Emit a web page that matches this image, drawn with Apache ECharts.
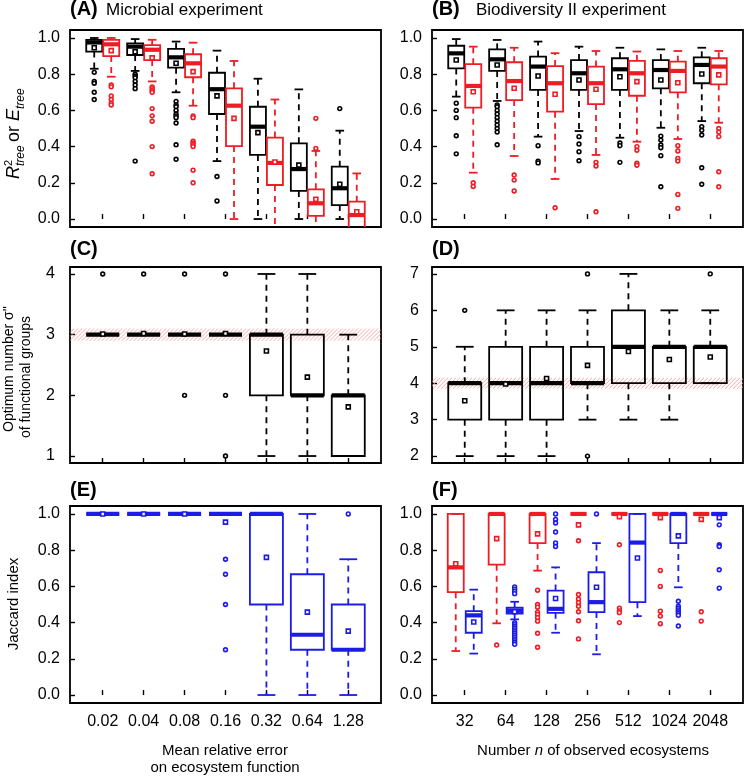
<!DOCTYPE html>
<html><head><meta charset="utf-8">
<script src="https://cdn.jsdelivr.net/npm/echarts@6/dist/echarts.min.js"></script>
<style>html,body{margin:0;padding:0;background:#fff}#c{width:745px;height:777px}</style>
</head><body><div id="c"></div>
<script>
// ---------- categories & ticks ----------
const catsLeft = ['0.02','0.04','0.08','0.16','0.32','0.64','1.28'];
const catsRight = ['32','64','128','256','512','1024','2048'];
const ticks01 = [0, 0.2, 0.4, 0.6, 0.8, 1.0];
const ticksC = [1, 2, 3, 4];
const ticksD = [2, 3, 4, 5, 6, 7];

// box stats: [lowWhisker, Q1, median, Q3, highWhisker]
// ---------- Panel A ----------
const A_black_box = [[0.83,0.925,0.975,0.99,1.0],[0.818,0.906,0.952,0.97,0.994],[0.70,0.836,0.893,0.94,0.98],[0.32,0.58,0.717,0.808,0.93],[0.0,0.354,0.51,0.62,0.775],[0.0,0.155,0.276,0.418,0.716],[0.0,0.077,0.17,0.289,0.488]];
const A_black_mean = [0.946,0.924,0.86,0.68,0.477,0.298,0.192];
const A_black_out = [[0.81,0.76,0.75,0.70,0.66],[0.80,0.79,0.78,0.76,0.74,0.72,0.32],[0.65,0.63,0.62,0.60,0.58,0.57,0.56,0.53,0.41,0.33],[0.235,0.10],[],[],[0.61]];
const A_red_box = [[0.786,0.90,0.965,0.99,1.0],[0.76,0.878,0.935,0.96,0.99],[0.626,0.783,0.86,0.91,0.974],[0.0,0.403,0.626,0.722,0.873],[-0.08,0.188,0.31,0.45,0.66],[-0.08,0.017,0.087,0.164,0.376],[-0.1,-0.06,0.022,0.096,0.252]];
const A_red_mean = [0.93,0.89,0.814,0.556,0.315,0.109,0.04];
const A_red_out = [[0.74,0.73,0.68,0.66,0.64,0.63],[0.73,0.72,0.71,0.70,0.61,0.57,0.54,0.40,0.25],[0.57,0.56,0.43,0.42,0.41,0.40,0.27,0.20],[],[],[0.556,0.39],[]];

// ---------- Panel B ----------
const B_black_box = [[0.676,0.832,0.915,0.957,0.994],[0.652,0.818,0.882,0.937,0.989],[0.455,0.713,0.842,0.897,0.98],[0.486,0.713,0.805,0.878,0.952],[0.449,0.713,0.827,0.888,0.946],[0.504,0.722,0.823,0.878,0.937],[0.541,0.75,0.851,0.893,0.946]];
const B_black_mean = [0.878,0.851,0.79,0.768,0.786,0.768,0.801];
const B_black_out = [[0.64,0.60,0.56,0.46,0.36],[0.63,0.62,0.60,0.58,0.56,0.54,0.52,0.50,0.48,0.41],[0.405,0.32,0.31],[0.455,0.414,0.372,0.322],[0.42,0.405,0.313],[0.458,0.436,0.409,0.394,0.35,0.178],[0.51,0.49,0.464,0.283,0.192]];
const B_red_box = [[0.256,0.615,0.735,0.855,0.952],[0.348,0.657,0.762,0.866,0.946],[0.221,0.593,0.75,0.845,0.916],[0.354,0.635,0.75,0.842,0.928],[0.427,0.681,0.805,0.873,0.925],[0.442,0.70,0.818,0.869,0.928],[0.532,0.744,0.842,0.888,0.928]];
const B_red_mean = [0.703,0.722,0.689,0.717,0.759,0.753,0.796];
const B_red_out = [[0.20,0.18],[0.243,0.215,0.155],[0.062],[0.313,0.293,0.04],[0.40,0.38,0.308,0.297],[0.405,0.376,0.335,0.32,0.136,0.059],[0.50,0.48,0.455,0.261,0.178]];

// ---------- Panel C ----------
const C_box = [[3,3,3,3,3],[3,3,3,3,3],[3,3,3,3,3],[3,3,3,3,3],[1,2,3,3,4],[1,2,2,3,4],[1,1,2,2,3]];
const C_mean = [3.01,3.02,3.01,3.02,2.73,2.30,1.81];
const C_out = [[4],[4],[4,2],[4,2,1],[],[],[]];
const C_band = [2.9, 3.1];

// ---------- Panel D ----------
const D_box = [[2,3,4,4,5],[2,3,4,5,6],[2,3,4,5,6],[3,4,4,5,6],[3,4,5,6,7],[3,4,5,5,6],[4,4,5,5,6]];
const D_mean = [3.52,3.98,4.13,4.49,4.87,4.65,4.72];
const D_out = [[6],[],[],[7,2],[],[],[7]];
const D_band = [3.85, 4.15];

// ---------- Panel E ----------
const E_box = [[1,1,1,1,1],[1,1,1,1,1],[1,1,1,1,1],[1,1,1,1,1],[0,0.5,1,1,1],[0,0.25,0.333,0.667,1],[0,0.25,0.25,0.5,0.75]];
const E_mean = [1,1,1,0.955,0.76,0.458,0.353];
const E_out = [[],[],[],[0.75,0.667,0.5,0.25],[],[],[1.0]];

// ---------- Panel F ----------
const F_red_box = [[0.243,0.568,0.705,1.0,1.0],[0.396,0.72,1.0,1.0,1.0],[0.687,0.839,1.0,1.0,1.0],[1,1,1,1,1],[1,1,1,1,1],[1,1,1,1,1],[1,1,1,1,1]];
const F_red_mean = [0.725,0.864,0.89,0.94,0.985,0.98,0.97];
const F_red_out = [[],[0.276],[0.579,0.50,0.485,0.458,0.445,0.427,0.408,0.341,0.264],[0.852,0.555,0.53,0.51,0.49,0.46,0.41,0.31],[0.83,0.48,0.465,0.455,0.40],[0.688,0.60,0.463,0.436,0.394],[0.46,0.408]];
const F_blue_box = [[0.229,0.344,0.44,0.463,0.582],[0.418,0.45,0.465,0.482,0.515],[0.344,0.454,0.476,0.577,0.705],[0.225,0.458,0.513,0.678,0.839],[0.436,0.513,0.842,1.0,1.0],[0.595,0.839,1.0,1.0,1.0],[1,1,1,1,1]];
const F_blue_mean = [0.403,0.46,0.533,0.595,0.757,0.879,0.98];
const F_blue_out = [[],[0.597,0.585,0.573,0.56,0.40,0.39,0.38,0.37,0.36,0.35,0.34,0.33,0.32,0.31,0.30,0.29,0.28],[1.0,0.97,0.95,0.90,0.84,0.82],[1.0],[],[0.518,0.49,0.48,0.47,0.46,0.45,0.44,0.381],[0.94,0.83,0.82,0.692,0.59]];

// ---------- styling ----------
const BLACK = '#000000', RED = '#ee1c24', BLUE = '#1c1ce8', HATCH_COLOR = '#f0a0a0';
const FONT = '"Liberation Sans", Arial, sans-serif';

const grids = [
  {left:70, top:30, width:311, height:197},
  {left:432, top:30, width:311, height:197},
  {left:70, top:267, width:311, height:196},
  {left:432, top:267, width:311, height:196},
  {left:70, top:506, width:311, height:197},
  {left:432, top:506, width:311, height:197}
].map(g => Object.assign({show:true, borderColor:'#000', borderWidth:1.8, backgroundColor:'transparent'}, g));

const catIdx = [1,2,3,4,5,6,7];
function xAxis(gi, cats, showLabels) {
  return {
    gridIndex: gi, type:'value', min:0.2, max:7.8,
    axisLine:{show:false}, splitLine:{show:false},
    axisTick:{show:true, inside:true, length:5, customValues:catIdx, lineStyle:{color:'#000', width:1.4}},
    axisLabel:{show:showLabels, customValues:catIdx, margin:11, color:'#000', fontSize:16, fontFamily:FONT,
      formatter: v => cats[Math.round(v)-1] || ''}
  };
}
function yAxis(gi, min, max, ticks, digits, margin) {
  return {
    gridIndex: gi, type:'value', min:min, max:max,
    axisLine:{show:false}, splitLine:{show:false},
    axisTick:{show:true, inside:true, length:5, customValues:ticks, lineStyle:{color:'#000', width:1.4}},
    axisLabel:{customValues:ticks, margin:margin, color:'#000', fontSize:16, fontFamily:FONT,
      formatter: v => v.toFixed(digits)}
  };
}

function boxSeries(gi, box, mean, out, color, offset, width) {
  return {
    type:'custom', xAxisIndex:gi, yAxisIndex:gi, clip:true, z:5,
    data: box.map((b,i) => [i+1, b[0], b[4], mean[i]]),
    encode:{x:0, y:[1,2]},
    renderItem: function(params, api) {
      const i = params.dataIndex;
      const b = box[i];
      const xv = api.value(0);
      const cx = api.coord([xv, b[2]])[0] + offset;
      const y = b.map(v => api.coord([xv, v])[1]);
      const hw = width/2, cw = width*0.27;
      const ch = [];
      const ls = {stroke:color, lineWidth:1.8, fill:null};
      if (y[4] < y[3] - 0.5) ch.push({type:'line', shape:{x1:cx,y1:y[3],x2:cx,y2:y[4]}, style:Object.assign({lineDash:[6,5]}, ls)});
      if (y[0] > y[1] + 0.5) ch.push({type:'line', shape:{x1:cx,y1:y[1],x2:cx,y2:y[0]}, style:Object.assign({lineDash:[6,5]}, ls)});
      ch.push({type:'line', shape:{x1:cx-cw,y1:y[4],x2:cx+cw,y2:y[4]}, style:ls});
      ch.push({type:'line', shape:{x1:cx-cw,y1:y[0],x2:cx+cw,y2:y[0]}, style:ls});
      ch.push({type:'rect', shape:{x:cx-hw, y:y[3], width:2*hw, height:Math.max(0, y[1]-y[3])}, style:{stroke:color, lineWidth:1.8, fill:null}});
      ch.push({type:'line', shape:{x1:cx-hw,y1:y[2],x2:cx+hw,y2:y[2]}, style:{stroke:color, lineWidth:4.2}});
      const my = api.coord([xv, mean[i]])[1];
      ch.push({type:'rect', shape:{x:cx-2, y:my-2, width:4, height:4}, style:{stroke:color, lineWidth:1.6, fill:'#fff'}});
      (out[i] || []).forEach(v => {
        const oy = api.coord([xv, v])[1];
        ch.push({type:'circle', shape:{cx:cx, cy:oy, r:1.9}, style:{stroke:color, lineWidth:1.6, fill:'#fff'}});
      });
      return {type:'group', children:ch};
    }
  };
}

// hatched reference band: diagonal lines clipped to the band rectangle
function bandSeries(gi, band) {
  return {
    type:'custom', xAxisIndex:gi, yAxisIndex:gi, clip:true, z:1, silent:true,
    data:[[4, band[0], band[1]]],
    encode:{x:0, y:[1,2]},
    renderItem: function(params, api) {
      const cs = params.coordSys;
      const yT = api.coord([api.value(0), api.value(2)])[1];
      const yB = api.coord([api.value(0), api.value(1)])[1];
      const h = yB - yT;
      const x0 = cs.x, x1 = cs.x + cs.width;
      const ch = [];
      for (let s = x0 - h; s < x1; s += 4) {
        let ax = s, ay = yB, bx = s + h, by = yT;
        if (ax < x0) { ay = yB - (x0 - ax); ax = x0; }
        if (bx > x1) { by = yT + (bx - x1); bx = x1; }
        ch.push({type:'line', shape:{x1:ax, y1:ay, x2:bx, y2:by}, style:{stroke:HATCH_COLOR, lineWidth:0.9}});
      }
      return {type:'group', children:ch};
    }
  };
}

const series = [
  boxSeries(0, A_black_box, A_black_mean, A_black_out, BLACK, -8.5, 16),
  boxSeries(0, A_red_box, A_red_mean, A_red_out, RED, 8.5, 16),
  boxSeries(1, B_black_box, B_black_mean, B_black_out, BLACK, -8.5, 16),
  boxSeries(1, B_red_box, B_red_mean, B_red_out, RED, 8.5, 16),
  bandSeries(2, C_band),
  boxSeries(2, C_box, C_mean, C_out, BLACK, 0, 33),
  bandSeries(3, D_band),
  boxSeries(3, D_box, D_mean, D_out, BLACK, 0, 33),
  boxSeries(4, E_box, E_mean, E_out, BLUE, 0, 33),
  boxSeries(5, F_red_box, F_red_mean, F_red_out, RED, -9, 16),
  boxSeries(5, F_blue_box, F_blue_mean, F_blue_out, BLUE, 9, 16)
];

function txt(x, y, text, font) {
  return {type:'text', x:x, y:y, style:{text:text, font:font, fill:'#000', align:'left', verticalAlign:'middle'}};
}
const titleBold = 'bold 20px ' + FONT, titleReg = '17px ' + FONT;
const graphic = [
  txt(70, 9, '(A)', titleBold), txt(106, 10, 'Microbial experiment', titleReg),
  txt(432, 9, '(B)', titleBold), txt(476, 10, 'Biodiversity II experiment', titleReg),
  txt(70, 249, '(C)', titleBold), txt(432, 249, '(D)', titleBold),
  txt(70, 490, '(E)', titleBold), txt(432, 490, '(F)', titleBold),
  // y-axis name A
  {type:'group', x:14, y:133, rotation:Math.PI/2, children:[
    {type:'text', x:-46, y:0, style:{text:'R', font:'italic 18px '+FONT, fill:'#000', verticalAlign:'middle'}},
    {type:'text', x:-33, y:-5, style:{text:'2', font:'11px '+FONT, fill:'#000', verticalAlign:'middle'}},
    {type:'text', x:-33, y:7, style:{text:'tree', font:'italic 12px '+FONT, fill:'#000', verticalAlign:'middle'}},
    {type:'text', x:-9, y:0, style:{text:'or', font:'18px '+FONT, fill:'#000', verticalAlign:'middle'}},
    {type:'text', x:12, y:0, style:{text:'E', font:'italic 18px '+FONT, fill:'#000', verticalAlign:'middle'}},
    {type:'text', x:24, y:7, style:{text:'tree', font:'italic 12px '+FONT, fill:'#000', verticalAlign:'middle'}}
  ]},
  // y-axis name C
  {type:'text', x:9, y:369, rotation:Math.PI/2, style:{text:"Optimum number \u03c3''", font:'14px '+FONT, fill:'#000', align:'center', verticalAlign:'middle'}},
  {type:'text', x:26, y:377, rotation:Math.PI/2, style:{text:'of functional groups', font:'14px '+FONT, fill:'#000', align:'center', verticalAlign:'middle'}},
  // y-axis name E
  {type:'text', x:14, y:604, rotation:Math.PI/2, style:{text:'Jaccard index', font:'15px '+FONT, fill:'#000', align:'center', verticalAlign:'middle'}},
  // x-axis names
  {type:'text', x:225, y:751, style:{text:'Mean relative error', font:'15px '+FONT, fill:'#000', align:'center', verticalAlign:'middle'}},
  {type:'text', x:225, y:768, style:{text:'on ecosystem function', font:'15px '+FONT, fill:'#000', align:'center', verticalAlign:'middle'}},
  {type:'text', x:593, y:751, style:{text:'Number {i|n} of observed ecosystems', font:'15px '+FONT, fill:'#000', align:'center', verticalAlign:'middle',
     rich:{i:{fontStyle:'italic', fontSize:15, fontFamily:FONT, fill:'#000'}}}}
];

const chart = echarts.init(document.getElementById('c'), null, {renderer:'canvas'});
chart.setOption({
  animation:false,
  backgroundColor:'#fff',
  grid: grids,
  xAxis: [xAxis(0, catsLeft, false), xAxis(1, catsRight, false), xAxis(2, catsLeft, false), xAxis(3, catsRight, false), xAxis(4, catsLeft, true), xAxis(5, catsRight, true)],
  yAxis: [yAxis(0,-0.044,1.044,ticks01,1,10), yAxis(1,-0.044,1.044,ticks01,1,10), yAxis(2,0.885,4.115,ticksC,0,15), yAxis(3,1.81,7.19,ticksD,0,13), yAxis(4,-0.044,1.044,ticks01,1,10), yAxis(5,-0.044,1.044,ticks01,1,10)],
  series: series,
  graphic: graphic
});
</script>
</body></html>
